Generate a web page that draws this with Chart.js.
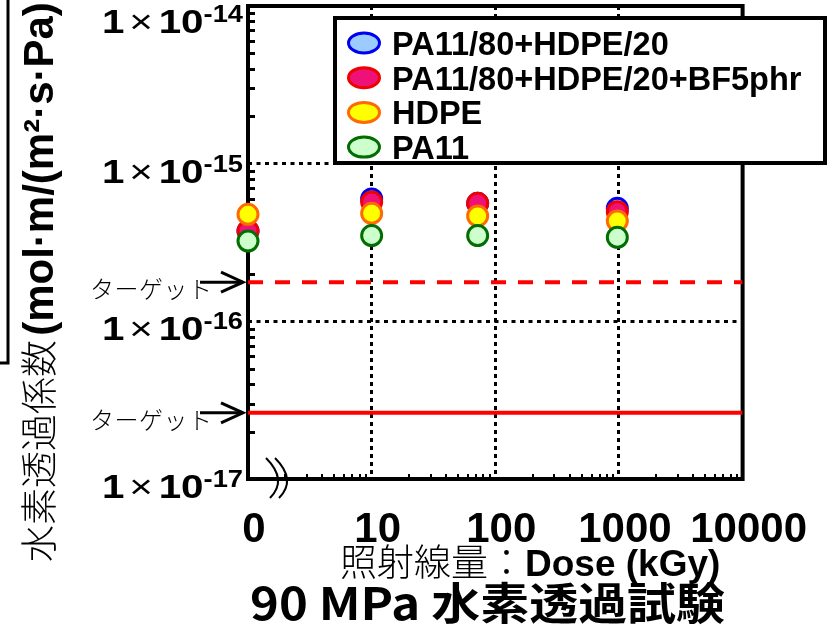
<!DOCTYPE html>
<html>
<head>
<meta charset="utf-8">
<script src="https://cdn.jsdelivr.net/npm/chart.js@4.4.0/dist/chart.umd.min.js"></script>
<style>
  html, body { margin: 0; padding: 0; background: #fff; }
  #c { display: block; }
</style>
</head>
<body>
<canvas id="c" width="827" height="627"></canvas>
<script>
// Irradiation dose (kGy); the unirradiated sample ("0") sits at the left end of the log axis
const doses = [1, 10, 72, 970];
const xTickLabels = { 1: '0', 10: '10', 100: '100', 1000: '1000', 10000: '10000' };

// Hydrogen permeability coefficient, mol·m/(m²·s·Pa)
const seriesNames = ['PA11/80+HDPE/20', 'PA11/80+HDPE/20+BF5phr', 'HDPE', 'PA11'];
const blend   = [3.74e-16, 5.97e-16, 5.60e-16, 5.21e-16];
const blendBF = [3.74e-16, 5.71e-16, 5.60e-16, 4.96e-16];
const hdpe    = [4.77e-16, 4.84e-16, 4.66e-16, 4.33e-16];
const pa11    = [3.23e-16, 3.50e-16, 3.50e-16, 3.41e-16];

// Target levels
const targetDashed = 1.77e-16;
const targetSolid  = 2.63e-17;

// Decade exponents labelled on the y axis
const yTickExps = [-17, -16, -15, -14];

const LAT = '"Liberation Sans", Arial, sans-serif';
const CJK = '"Noto Sans CJK JP", "Noto Sans CJK SC", sans-serif';

const seriesStyle = [
  { fill: '#9ccbff', edge: '#0000f0' },
  { fill: '#ee1278', edge: '#f00000' },
  { fill: '#ffff00', edge: '#ff6a00' },
  { fill: '#ccffcc', edge: '#006e00' }
];
const seriesValues = [blend, blendBF, hdpe, pa11];

function isDecade(v) {
  const l = Math.log10(v);
  return Math.abs(l - Math.round(l)) < 1e-6;
}

const pointSets = seriesValues.map((vals, i) => ({
  label: seriesNames[i],
  data: doses.map((d, k) => ({ x: d, y: vals[k] })),
  showLine: false,
  pointRadius: 10,
  pointHoverRadius: 10,
  pointBorderWidth: 3,
  backgroundColor: seriesStyle[i].fill,
  borderColor: seriesStyle[i].edge,
  clip: false,
  order: 4 - i
}));

const targetSets = [
  { label: 'target-dashed', value: targetDashed, dash: [15, 12] },
  { label: 'target-solid', value: targetSolid, dash: [] }
].map((t, i) => ({
  label: t.label,
  data: [{ x: 1, y: t.value }, { x: 10000, y: t.value }],
  showLine: true,
  pointRadius: 0,
  borderColor: '#ff0000',
  borderWidth: 4,
  borderDash: t.dash,
  order: 6 + i
}));

// Frame, minor ticks and break mark, drawn under the markers
const framePlugin = {
  id: 'frame',
  beforeDatasetsDraw(chart) {
    const { ctx, chartArea: a, scales: { x, y } } = chart;
    ctx.save();
    ctx.strokeStyle = '#000';
    // inward minor ticks on the dose axis
    ctx.lineWidth = 2;
    for (let d = 1; d < 10000; d *= 10) {
      for (let m = 2; m <= 9; m++) {
        const px = Math.round(x.getPixelForValue(m * d));
        ctx.beginPath(); ctx.moveTo(px, a.bottom); ctx.lineTo(px, a.bottom - 5); ctx.stroke();
      }
    }
    // inward minor ticks on the permeability axis
    ctx.lineWidth = 3;
    for (let e = -17; e < -14; e++) {
      for (let m = 2; m <= 9; m++) {
        const py = Math.round(y.getPixelForValue(m * Math.pow(10, e))) + 0.5;
        ctx.beginPath(); ctx.moveTo(a.left, py); ctx.lineTo(a.left + 7, py); ctx.stroke();
      }
    }
    // plot frame
    ctx.lineWidth = 4;
    ctx.strokeRect(a.left, a.top, a.right - a.left, a.bottom - a.top);
    // axis break mark next to the zero-dose position
    ctx.lineWidth = 2;
    for (const off of [18, 27]) {
      ctx.beginPath();
      ctx.moveTo(a.left + off, a.bottom - 21);
      ctx.quadraticCurveTo(a.left + off + 22, a.bottom + 1, a.left + off + 4, a.bottom + 19);
      ctx.stroke();
    }
    ctx.restore();
  }
};

function fillStretched(ctx, text, x, y, width) {
  const w = ctx.measureText(text).width;
  ctx.save();
  ctx.translate(x, y);
  ctx.scale(width / w, 1);
  ctx.fillText(text, 0, 0);
  ctx.restore();
}

function drawPow10(ctx, rightX, baseline, exp, width) {
  const parts = [
    { t: '1', f: 'bold 34px ' + LAT, dy: 0, gap: 4 },
    { t: '\u00D7', f: '34px ' + LAT, dy: 0, gap: 5 },
    { t: '10', f: 'bold 34px ' + LAT, dy: 0, gap: 0 },
    { t: String(exp), f: 'bold 23px ' + LAT, dy: -11, gap: 0 }
  ];
  let total = 0;
  for (const p of parts) { ctx.font = p.f; p.w = ctx.measureText(p.t).width; total += p.w + p.gap; }
  const sx = width / total;
  ctx.save();
  ctx.translate(rightX - width, baseline);
  ctx.scale(sx, 1);
  ctx.textAlign = 'left';
  ctx.textBaseline = 'alphabetic';
  let cx = 0;
  for (const p of parts) { ctx.font = p.f; ctx.fillText(p.t, cx, p.dy); cx += p.w + p.gap; }
  ctx.restore();
}

// Text, arrows and legend drawn over everything
const overlayPlugin = {
  id: 'overlay',
  afterDraw(chart) {
    const { ctx, chartArea: a, scales: { y } } = chart;
    ctx.save();
    ctx.fillStyle = '#000';
    ctx.strokeStyle = '#000';

    // y tick labels with superscript exponents
    for (const e of yTickExps) {
      const py = y.getPixelForValue(Math.pow(10, e));
      drawPow10(ctx, 243, Math.max(py + 19, 33), e, 141);
    }

    // target markers: label plus arrow pointing at each target line
    for (const v of [targetDashed, targetSolid]) {
      const py = y.getPixelForValue(v);
      ctx.font = '300 24px ' + CJK;
      ctx.textAlign = 'left';
      ctx.textBaseline = 'alphabetic';
      const chars = ['タ', 'ー', 'ゲ', 'ッ', 'ト'];
      chars.forEach((ch, i) => ctx.fillText(ch, 90 + i * 24.5, py + 16));
      ctx.lineWidth = 3;
      ctx.beginPath(); ctx.moveTo(200, py); ctx.lineTo(a.left - 5, py); ctx.stroke();
      ctx.beginPath();
      ctx.moveTo(a.left - 27, py - 10); ctx.lineTo(a.left - 5, py); ctx.lineTo(a.left - 27, py + 10);
      ctx.stroke();
    }

    // legend
    ctx.lineWidth = 4;
    ctx.fillStyle = '#fff';
    ctx.fillRect(335, 18, 490, 145);
    ctx.strokeRect(335, 18, 490, 145);
    seriesNames.forEach((name, i) => {
      const cy = 43 + i * 34.7;
      ctx.beginPath();
      ctx.ellipse(364, cy, 15.5, 10, 0, 0, Math.PI * 2);
      ctx.fillStyle = seriesStyle[i].fill;
      ctx.fill();
      ctx.lineWidth = 3;
      ctx.strokeStyle = seriesStyle[i].edge;
      ctx.stroke();
      ctx.fillStyle = '#000';
      ctx.font = 'bold 32.5px ' + LAT;
      ctx.textAlign = 'left';
      ctx.textBaseline = 'alphabetic';
      ctx.fillText(name, 392, cy + 12);
    });

    // x axis title
    ctx.fillStyle = '#000';
    ctx.textBaseline = 'alphabetic';
    ctx.textAlign = 'left';
    ctx.font = '300 37px ' + CJK;
    const jp = '照射線量：';
    ctx.fillText(jp, 340, 576);
    const jw = ctx.measureText(jp).width;
    ctx.font = 'bold 37px ' + LAT;
    ctx.fillText('Dose (kGy)', 340 + jw, 576);

    // chart title
    ctx.font = 'bold 44px ' + CJK;
    fillStretched(ctx, '90 MPa 水素透過試験', 250, 620, 475);

    // y axis title, reading upward
    ctx.save();
    ctx.translate(53, 562);
    ctx.rotate(-Math.PI / 2);
    ctx.font = '300 37px ' + CJK;
    const yj = '水素透過係数 ';
    ctx.fillText(yj, 0, 0);
    const yjw = ctx.measureText(yj).width;
    ctx.font = 'bold 42px ' + LAT;
    ctx.fillText('(mol\u00B7m/(m\u00B2\u00B7s\u00B7Pa)', yjw - 4, 0);
    ctx.restore();

    // outline of the neighbouring panel
    ctx.lineWidth = 3;
    ctx.strokeStyle = '#000';
    ctx.beginPath(); ctx.moveTo(8, 0); ctx.lineTo(8, 363); ctx.lineTo(0, 363); ctx.stroke();

    ctx.restore();
  }
};

new Chart(document.getElementById('c'), {
  type: 'scatter',
  data: { datasets: [...pointSets, ...targetSets] },
  options: {
    responsive: false,
    animation: false,
    devicePixelRatio: 1,
    layout: { autoPadding: false, padding: { top: 6, right: 82, left: 0, bottom: 0 } },
    plugins: { legend: { display: false }, tooltip: { enabled: false } },
    scales: {
      x: {
        type: 'logarithmic',
        min: 1,
        max: 10000,
        afterFit(s) { s.height = 148; },
        border: { display: false, dash: [4, 4] },
        grid: {
          drawTicks: false,
          lineWidth: 3,
          color: (c) => {
            const v = c.tick && c.tick.value;
            return v && isDecade(v) && v > 1 && v < 10000 ? '#000' : 'rgba(0,0,0,0)';
          }
        },
        ticks: {
          autoSkip: false,
          maxRotation: 0,
          minRotation: 0,
          padding: 26,
          labelOffset: 6,
          color: '#000',
          font: { family: LAT, weight: 'bold', size: 42 },
          callback: (v) => {
            const r = Math.round(v);
            return Math.abs(v - r) < 1e-9 && xTickLabels[r] !== undefined ? xTickLabels[r] : '';
          }
        }
      },
      y: {
        type: 'logarithmic',
        min: 1e-17,
        max: 1e-14,
        afterFit(s) { s.width = 248; },
        border: { display: false, dash: [4, 4.5] },
        grid: {
          drawTicks: false,
          lineWidth: 3,
          color: (c) => {
            const v = c.tick && c.tick.value;
            if (!v || !isDecade(v)) return 'rgba(0,0,0,0)';
            const l = Math.round(Math.log10(v));
            return l > -17 && l < -14 ? '#000' : 'rgba(0,0,0,0)';
          }
        },
        ticks: { display: false }
      }
    }
  },
  plugins: [framePlugin, overlayPlugin]
});
</script>
</body>
</html>
